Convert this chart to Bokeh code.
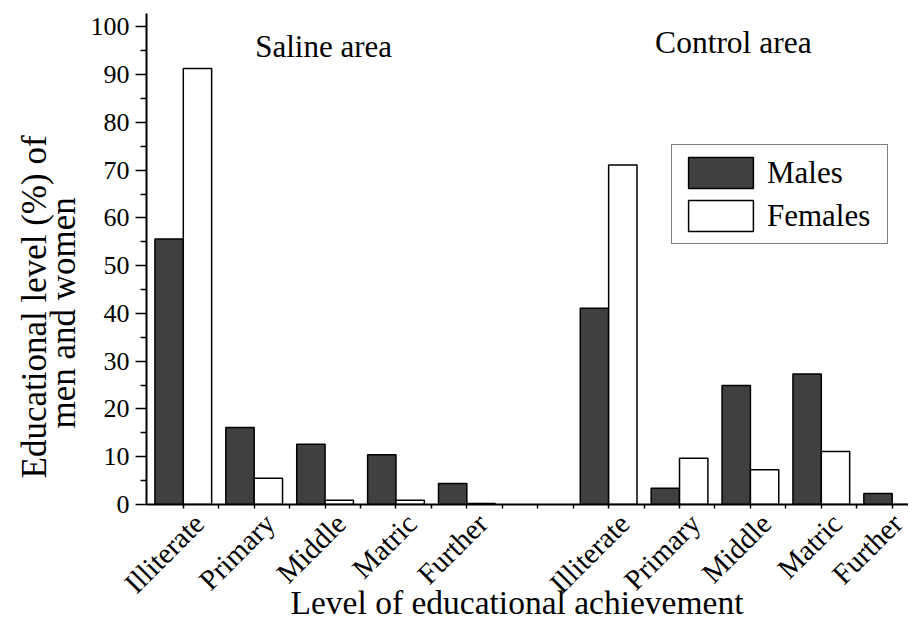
import math
from bokeh.plotting import figure
from bokeh.models import ColumnDataSource, FixedTicker, Range1d, Label, Legend, LegendItem, Title
from bokeh.embed import file_html
from bokeh.resources import INLINE

# ---- data ----
levels = ["Illiterate", "Primary", "Middle", "Matric", "Further"]
areas = ["Saline area", "Control area"]
saline_males = [55.6, 16.1, 12.6, 10.4, 4.4]
saline_females = [91.3, 5.5, 0.9, 0.9, 0.2]
control_males = [41.1, 3.4, 24.9, 27.3, 2.3]
control_females = [71.1, 9.7, 7.3, 11.1, 0.0]
series_names = ["Males", "Females"]
y_ticks = list(range(0, 101, 10))
x_title = "Level of educational achievement"
y_title_lines = ["Educational level (%) of", "men and women"]

FONT = "Liberation Serif"
DARK = "#404040"

# group slots: saline 1..5, empty slot 6, control 7..11
saline_pos = [i + 1 for i in range(len(levels))]
control_pos = [i + 2 + len(levels) for i in range(len(levels))]
all_pos = saline_pos + control_pos
bar_w = 0.4
label_shift = 0.22

males_src = ColumnDataSource(dict(x=[p_ - bar_w / 2 for p_ in all_pos],
                                  top=saline_males + control_males))
females_src = ColumnDataSource(dict(x=[p_ + bar_w / 2 for p_ in all_pos],
                                    top=saline_females + control_females))

p = figure(width=908, height=621, output_backend="svg", toolbar_location=None,
           x_range=Range1d(0.481, 11.23), y_range=Range1d(0, 102.8),
           min_border_left=146, min_border_right=0, min_border_top=13,
           min_border_bottom=117)
p.outline_line_color = None
p.xgrid.visible = False
p.ygrid.visible = False
p.background_fill_color = "white"
p.border_fill_color = "white"

r_m = p.vbar(x="x", top="top", bottom=0, width=bar_w, source=males_src,
             fill_color=DARK, line_color="black", line_width=1.5)
r_f = p.vbar(x="x", top="top", bottom=0, width=bar_w, source=females_src,
             fill_color="white", line_color="black", line_width=1.5)

# x axis: labels on (invisible) major ticks next to each group,
# visible tick marks as minor ticks every half slot
label_ticks = [round(p_ + label_shift, 3) for p_ in all_pos]
xa = p.xaxis[0]
xa.ticker = FixedTicker(ticks=label_ticks,
                        minor_ticks=[0.5 * k for k in range(2, 23)])
xa.major_label_overrides = {t: name for t, name in zip(label_ticks, levels + levels)}
xa.major_label_orientation = math.pi / 4
xa.major_label_text_font = FONT
xa.major_label_text_font_size = "29px"
xa.major_label_text_color = "black"
xa.major_label_standoff = 10
xa.major_tick_line_color = None
xa.major_tick_in = 0
xa.major_tick_out = 4
xa.minor_tick_in = 0
xa.minor_tick_out = 4
xa.minor_tick_line_width = 1.5
xa.axis_line_width = 2

# y axis
ya = p.yaxis[0]
ya.ticker = FixedTicker(ticks=y_ticks, minor_ticks=[5 + 10 * k for k in range(10)])
ya.major_tick_in = 0
ya.major_tick_out = 11
ya.minor_tick_in = 0
ya.minor_tick_out = 6
ya.axis_line_width = 2
ya.major_tick_line_width = 1.5
ya.minor_tick_line_width = 1.5
ya.major_label_text_font = FONT
ya.major_label_text_font_size = "26px"
ya.major_label_text_color = "black"
ya.major_label_standoff = 6

# area titles
p.add_layout(Label(x=2.98, y=95.8, text=areas[0], text_align="center",
                   text_baseline="alphabetic", text_font=FONT,
                   text_font_size="31px", text_color="black"))
p.add_layout(Label(x=8.76, y=96.7, text=areas[1], text_align="center",
                   text_baseline="alphabetic", text_font=FONT,
                   text_font_size="31.5px", text_color="black"))

# axis titles as side titles
def side_title(text, offset, size, standoff, valign):
    return Title(text=text, align="left", offset=offset, standoff=standoff,
                 text_font=FONT, text_font_size=size, text_font_style="normal",
                 text_color="black", vertical_align=valign)

p.add_layout(side_title(y_title_lines[1], 76, "35px", 10, "bottom"), "left")
p.add_layout(side_title(y_title_lines[0], 26, "35px", -34, "bottom"), "left")
p.add_layout(side_title(x_title, 144, "33.5px", -60, "top"), "below")

legend = Legend(items=[LegendItem(label=series_names[0], renderers=[r_m]),
                       LegendItem(label=series_names[1], renderers=[r_f])],
                location=(525, 260))
legend.glyph_width = 81
legend.glyph_height = 39
legend.spacing = 4
legend.padding = 8
legend.margin = 0
legend.label_standoff = 6
legend.label_width = 112
legend.label_text_font = FONT
legend.label_text_font_size = "31px"
legend.label_text_color = "black"
legend.label_text_baseline = "middle"
legend.border_line_color = "black"
legend.border_line_width = 1.5
legend.background_fill_alpha = 1
p.add_layout(legend)

open("out.html", "w").write(file_html(p, INLINE))
